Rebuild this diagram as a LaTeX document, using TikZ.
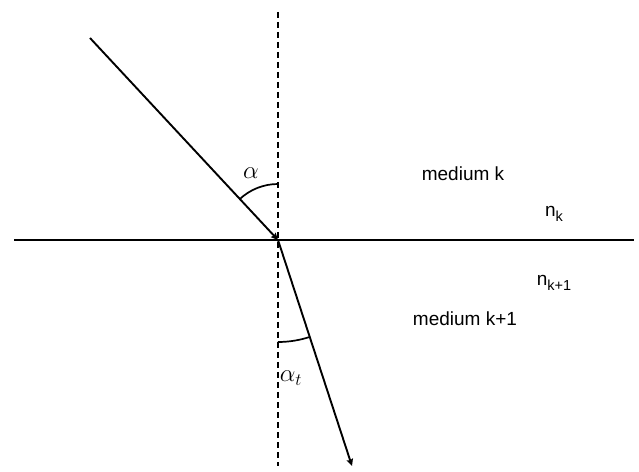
\documentclass[tikz,border=0pt]{standalone}
\usepackage{fontspec}
\setmainfont{Liberation Sans}
\usetikzlibrary{arrows.meta,calc}
\newcommand{\subtxt}[1]{\raisebox{-4.5pt}{\fontsize{14.5}{15}\selectfont #1}}
\begin{document}
\begin{tikzpicture}[x=1pt,y=1pt,
  ray/.style={line width=1.9pt,-{Stealth[length=7pt,width=6.5pt,inset=1pt]}},
  lbl/.style={font=\fontsize{19}{22}\selectfont, inner sep=0pt},
  angl/.style={font=\fontsize{23}{26}\selectfont, inner sep=0pt}]
\useasboundingbox (0,0) rectangle (639,471);
\coordinate (O) at (278,231);
\coordinate (L) at (14,231);
\coordinate (R) at (634,231);
\coordinate (T) at (278,459);
\coordinate (B) at (278,5);
\coordinate (S) at (90,433);
\coordinate (E) at (352,5);
\draw[line width=2pt] (L) -- (R);
\draw[line width=1.7pt, dash pattern=on 6pt off 4pt] (T) -- (B);
\draw[ray] (S) -- (O);
\draw[ray] (O) -- (E);
\draw[line width=1.7pt] ($(O)+(0pt,56pt)$) arc[start angle=90, end angle=133, radius=56pt];
\draw[line width=1.7pt] ($(O)+(0pt,-102pt)$) arc[start angle=-90, end angle=-72, radius=102pt];
\node[angl] (a) at (251,298) {$\alpha$};
\node[angl] (at) at (291,93) {$\alpha_{\scriptstyle t}$};
\node[lbl] (mk) at (463,297) {medium k};
\node[lbl] (nk) at (554,257) {n\subtxt{k}};
\node[lbl] (nk1) at (554,188) {n\subtxt{k+1}};
\node[lbl] (mk1) at (465,152) {medium k+1};
\end{tikzpicture}
\end{document}
